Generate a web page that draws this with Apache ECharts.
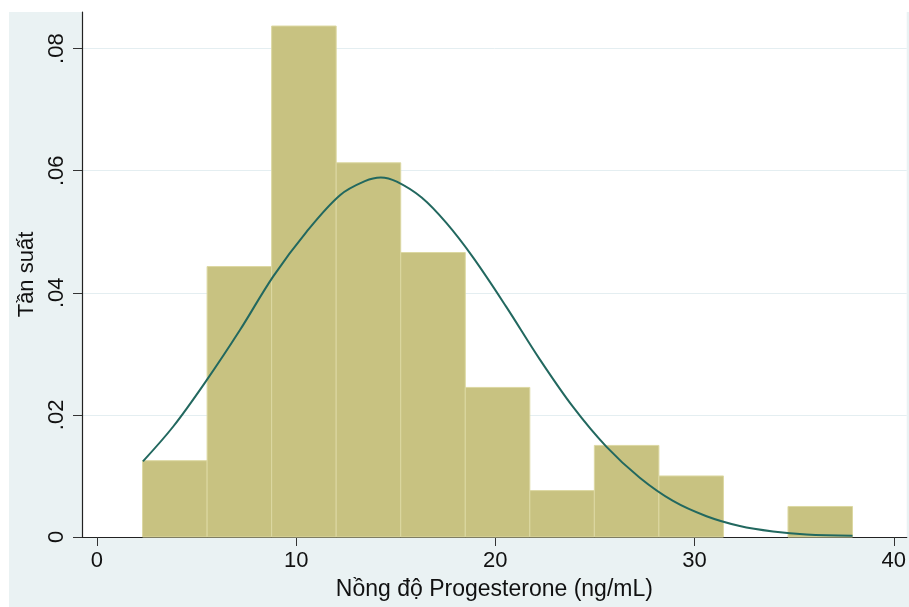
<!DOCTYPE html>
<html>
<head>
<meta charset="utf-8">
<script src="https://cdn.jsdelivr.net/npm/echarts@6/dist/echarts.min.js"></script>
<style>
  html, body { margin: 0; padding: 0; background: #fff; }
  #chart { width: 909px; height: 607px; }
</style>
</head>
<body>
<div id="chart"></div>
<script>
// histogram bins (ng/mL)
const binEdges = [2.29, 5.53, 8.77, 12.01, 15.25, 18.49, 21.73, 24.97, 28.21, 31.45, 34.69, 37.93]
const binDensity = [0.0125, 0.0443, 0.0837, 0.0613, 0.0466, 0.0245, 0.0076, 0.0150, 0.0100, 0, 0.0050]

// normal density overlay
const curveX = [2.31, 3.83, 5.51, 7.18, 8.85, 10.52, 12.20, 13.45, 14.25, 15.05, 16.30, 17.55, 18.88, 20.55, 22.23, 23.90, 25.57, 27.25, 28.92, 30.60, 32.27, 33.94, 35.62, 37.93]
const curveY = [0.0124, 0.0181, 0.0257, 0.0339, 0.0427, 0.0500, 0.0560, 0.0583, 0.0589, 0.0582, 0.0556, 0.0514, 0.0458, 0.0377, 0.0291, 0.0213, 0.0148, 0.0097, 0.0059, 0.0034, 0.0018, 0.0009, 0.0004, 0.0002]

const xTicks = [0, 10, 20, 30, 40]
const yTicks = [0, 0.02, 0.04, 0.06, 0.08]

const font = "'Liberation Sans', Arial, Helvetica, sans-serif"

let bars = []
binDensity.forEach((d, i) => {
  if (d > 0) bars.push([binEdges[i], binEdges[i + 1], d])
})

const chart = echarts.init(document.getElementById('chart'))
chart.setOption({
  backgroundColor: '#fff',
  animation: false,
  graphic: [
    {
      type: 'rect',
      z: -10,
      shape: { x: 9, y: 12, width: 900, height: 595 },
      style: { fill: '#eaf2f3' }
    }
  ],
  grid: {
    left: 82,
    top: 12,
    right: 2,
    bottom: 70,
    show: true,
    backgroundColor: '#fff',
    borderWidth: 0
  },
  xAxis: {
    type: 'value',
    min: -0.75,
    max: 40.65,
    name: 'Nồng độ Progesterone (ng/mL)',
    nameLocation: 'middle',
    nameGap: 41,
    nameTextStyle: { fontFamily: font, fontSize: 23, color: '#111' },
    axisLine: { onZero: false, lineStyle: { color: '#222', width: 1.2 } },
    axisTick: { length: 9, customValues: xTicks, lineStyle: { color: '#333' } },
    axisLabel: { customValues: xTicks, margin: 13, fontFamily: font, fontSize: 22, color: '#111' },
    splitLine: { show: false }
  },
  yAxis: {
    type: 'value',
    min: 0,
    max: 0.086,
    name: 'Tần suất',
    nameLocation: 'middle',
    nameGap: 39,
    nameTextStyle: { fontFamily: font, fontSize: 22, color: '#111' },
    axisLine: { show: true, onZero: false, lineStyle: { color: '#222', width: 1.2 } },
    axisTick: { show: true, length: 9, customValues: yTicks, lineStyle: { color: '#333' } },
    axisLabel: {
      customValues: yTicks,
      rotate: 90,
      margin: 14,
      fontFamily: font,
      fontSize: 22,
      color: '#111',
      formatter: v => v === 0 ? '0' : String(v).replace('0.', '.')
    },
    splitLine: { show: true, lineStyle: { color: '#e4eef1', width: 1 } }
  },
  series: [
    {
      type: 'custom',
      data: bars,
      renderItem: (params, api) => {
        const p0 = api.coord([api.value(0), api.value(2)])
        const p1 = api.coord([api.value(1), 0])
        return {
          type: 'rect',
          shape: { x: p0[0], y: p0[1], width: p1[0] - p0[0], height: p1[1] - p0[1] },
          style: { fill: '#c8c281', stroke: '#dcd8a2', lineWidth: 1 }
        }
      },
      encode: { x: [0, 1], y: 2 },
      z: 2
    },
    {
      type: 'line',
      data: curveX.map((x, i) => [x, curveY[i]]),
      smooth: 0.35,
      showSymbol: false,
      lineStyle: { color: '#22685f', width: 2 },
      z: 3
    }
  ]
})
</script>
</body>
</html>
